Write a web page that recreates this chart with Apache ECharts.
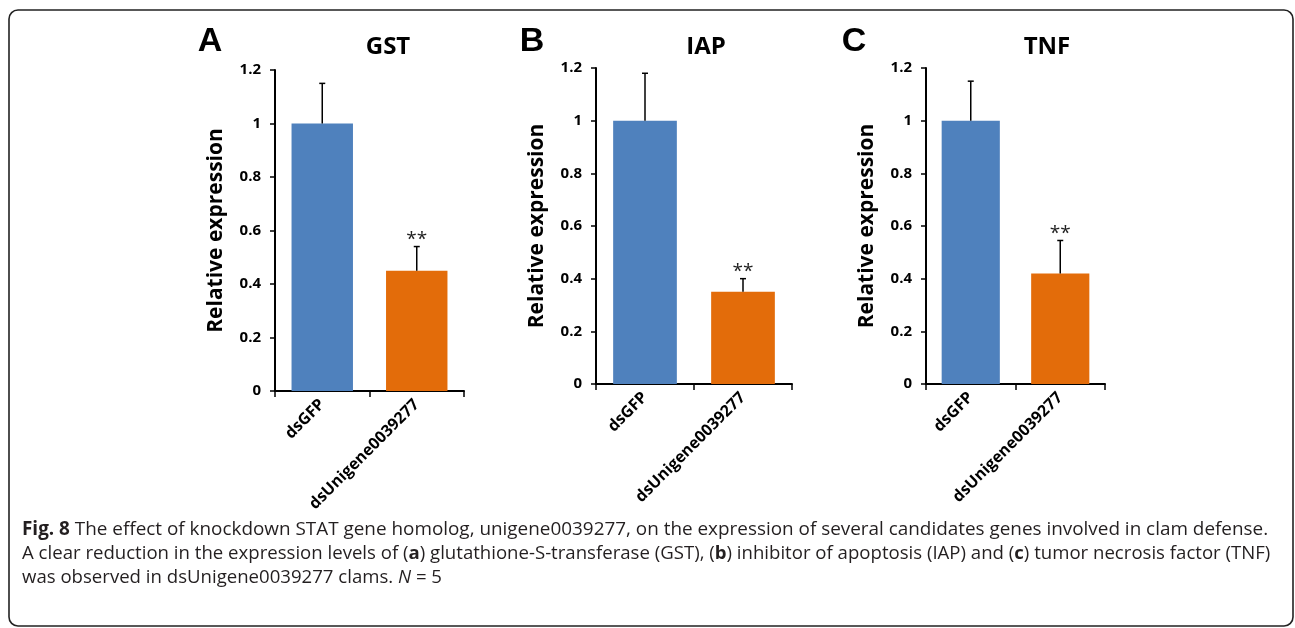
<!DOCTYPE html>
<html>
<head>
<meta charset="utf-8">
<script src="https://cdn.jsdelivr.net/npm/echarts@6/dist/echarts.min.js"></script>
<style>
  html, body { margin: 0; padding: 0; background: #fff; }
  #chart { width: 1295px; height: 628px; }
</style>
</head>
<body>
<div id="chart"></div>
<script>
// Groups and measured relative expression (mean and standard error)
const categories = ['dsGFP', 'dsUnigene0039277'];
const panelLetters = ['A', 'B', 'C'];
const geneNames = ['GST', 'IAP', 'TNF'];
const gstMean = [1, 0.45];
const gstErr = [0.15, 0.09];
const iapMean = [1, 0.35];
const iapErr = [0.18, 0.05];
const tnfMean = [1, 0.42];
const tnfErr = [0.15, 0.125];
const significance = ['', '**'];
const yMin = 0, yMax = 1.2, yStep = 0.2;
const barColors = ['#4F81BD', '#E36C0A'];

const means = [gstMean, iapMean, tnfMean];
const errs = [gstErr, iapErr, tnfErr];

const chartFont = '"Open Sans"';

// Plot areas of the three panels
const grids = [
  { left: 275, top: 70, width: 189, height: 321 },
  { left: 596, top: 68, width: 196, height: 316 },
  { left: 926, top: 68, width: 179, height: 316 }
];
const letterX = [210, 532, 854];
const titleX = [388, 706, 1047];

const xAxes = grids.map((g, i) => ({
  type: 'category',
  gridIndex: i,
  data: categories,
  axisLine: { lineStyle: { color: '#000', width: 2 } },
  axisTick: { show: true, length: 6, lineStyle: { color: '#000', width: 1.5 } },
  axisLabel: {
    rotate: 45, interval: 0, margin: 11,
    color: '#000', fontWeight: 'bold', fontSize: 16, fontFamily: 'Open Sans'
  }
}));

const yAxes = grids.map((g, i) => ({
  type: 'value',
  gridIndex: i,
  min: yMin, max: yMax, interval: yStep,
  name: 'Relative expression',
  nameLocation: 'middle',
  nameGap: 48,
  nameTextStyle: { color: '#000', fontWeight: 'bold', fontSize: 21, fontFamily: 'Open Sans' },
  axisLine: { show: true, lineStyle: { color: '#000', width: 2 } },
  axisTick: { show: true, length: 5, lineStyle: { color: '#000', width: 1.5 } },
  splitLine: { show: false },
  axisLabel: {
    margin: 14, color: '#000', fontWeight: 'bold', fontSize: 15, fontFamily: 'Open Sans',
    formatter: v => String(+v.toFixed(1))
  }
}));

// Error bars with a small cap and the significance mark above them
function errorBars(i) {
  const m = means[i], e = errs[i];
  return {
    type: 'custom',
    xAxisIndex: i, yAxisIndex: i,
    z: 5,
    data: m.map((v, k) => [k, v, v + e[k]]),
    renderItem(params, api) {
      const base = api.coord([api.value(0), api.value(1)]);
      const top = api.coord([api.value(0), api.value(2)]);
      const children = [
        { type: 'line', shape: { x1: base[0], y1: base[1], x2: top[0], y2: top[1] },
          style: { stroke: '#000', lineWidth: 1.5 } },
        { type: 'line', shape: { x1: top[0] - 3, y1: top[1], x2: top[0] + 3, y2: top[1] },
          style: { stroke: '#000', lineWidth: 1.5 } }
      ];
      const mark = significance[params.dataIndex];
      if (mark) {
        children.push({
          type: 'text',
          style: {
            text: mark, x: top[0], y: top[1] - 7,
            align: 'center', verticalAlign: 'middle',
            font: '19px "Open Sans"', fill: '#222'
          }
        });
      }
      return { type: 'group', children };
    }
  };
}

const series = [];
grids.forEach((g, i) => {
  series.push({
    type: 'bar',
    xAxisIndex: i, yAxisIndex: i,
    barCategoryGap: '35%',
    data: means[i].map((v, k) => ({ value: v, itemStyle: { color: barColors[k] } })),
    silent: true
  });
  series.push(errorBars(i));
});

const graphics = [
  // frame around the figure
  { type: 'rect', shape: { x: 9, y: 10, width: 1284, height: 616, r: 9 },
    style: { fill: 'none', stroke: '#222', lineWidth: 1.6 }, z: 10 }
];
panelLetters.forEach((t, i) => {
  graphics.push({ type: 'text', x: letterX[i], y: 42,
    style: { text: t, font: 'bold 34px "Liberation Sans"', fill: '#000', align: 'center', verticalAlign: 'middle' } });
  graphics.push({ type: 'text', x: titleX[i], y: 47,
    style: { text: geneNames[i], font: 'bold 24px ' + chartFont, fill: '#000', align: 'center', verticalAlign: 'middle' } });
});

// Figure caption
const captionLines = [
  '{b|Fig. 8} The effect of knockdown STAT gene homolog, unigene0039277, on the expression of several candidates genes involved in clam defense.',
  'A clear reduction in the expression levels of ({b|a}) glutathione-S-transferase (GST), ({b|b}) inhibitor of apoptosis (IAP) and ({b|c}) tumor necrosis factor (TNF)',
  'was observed in dsUnigene0039277 clams. {i|N} = 5'
];
const captionY = [530, 554, 578];
const captionSize = [18.9, 18.6, 18.6];
captionLines.forEach((line, i) => {
  const fs = captionSize[i];
  graphics.push({ type: 'text', x: 22, y: captionY[i],
    style: {
      text: line, fill: '#231f20', font: fs + 'px "Open Sans"', verticalAlign: 'middle',
      rich: {
        b: { fontWeight: 'bold', fontSize: fs, fontFamily: 'Open Sans', fill: '#231f20' },
        i: { fontStyle: 'italic', fontSize: fs, fontFamily: 'Open Sans', fill: '#231f20' }
      }
    } });
});

const chart = echarts.init(document.getElementById('chart'), null, { renderer: 'canvas' });
chart.setOption({
  animation: false,
  backgroundColor: '#fff',
  grid: grids.map(g => Object.assign({ containLabel: false }, g)),
  xAxis: xAxes,
  yAxis: yAxes,
  series: series,
  graphic: graphics
});
</script>
</body>
</html>
